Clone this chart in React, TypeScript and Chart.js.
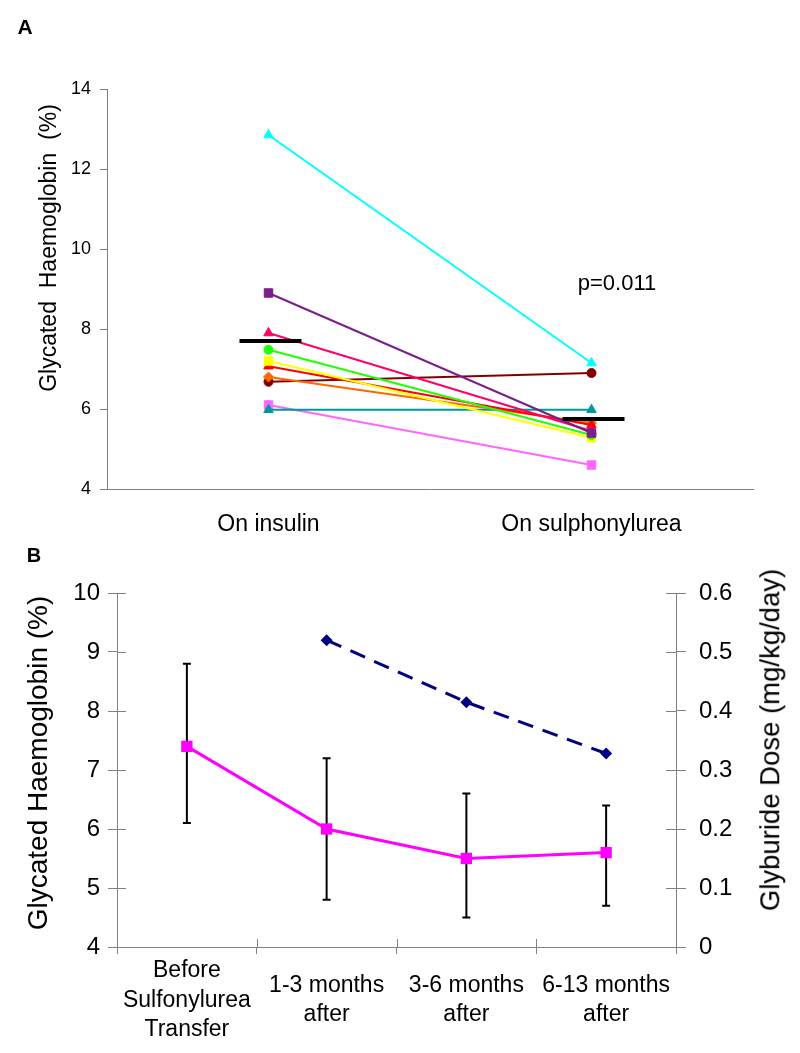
import React, { useEffect, useRef } from "react";
import { Chart, registerables } from "chart.js";

Chart.register(...registerables);

// ---------- Panel A data ----------
const groupsA = ["On insulin", "On sulphonylurea"];
const hbOnInsulin = [12.85, 8.9, 7.9, 7.48, 7.2, 7.07, 6.8, 6.68, 5.98, 6.1];
const hbOnSulphonylurea = [7.15, 5.4, 5.45, 5.35, 5.28, 5.6, 5.65, 6.9, 5.98, 4.6];
const patientColors = [
  "#00FFFF",
  "#7A1E8C",
  "#FF0066",
  "#22FF00",
  "#FFFF00",
  "#FF0000",
  "#FF6600",
  "#800000",
  "#009999",
  "#FF66FF",
];
const patientMarkers = [
  "triangle",
  "rect",
  "triangle",
  "circle",
  "rect",
  "triangle",
  "rectRot",
  "circle",
  "triangle",
  "rect",
];
const groupMeansA = [7.7, 5.75];
const yTicksA = [4, 6, 8, 10, 12, 14];

// ---------- Panel B data ----------
const periodsB = [
  ["Before", "Sulfonylurea", "Transfer"],
  ["1-3 months", "after"],
  ["3-6 months", "after"],
  ["6-13 months", "after"],
];
const hbMeanB = [7.4, 6.0, 5.5, 5.6];
const hbLowB = [6.1, 4.8, 4.5, 4.7];
const hbHighB = [8.8, 7.2, 6.6, 6.4];
const glyburideDose = [null, 0.52, 0.415, 0.328];
const yTicksB = [4, 5, 6, 7, 8, 9, 10];
const y1TicksB = [0, 0.1, 0.2, 0.3, 0.4, 0.5, 0.6];

const FONT = "'Liberation Sans', Arial, Helvetica, sans-serif";
const AXIS = "#808080";

const markerRadius: Record<string, number> = {
  rect: 6,
  circle: 4.5,
  triangle: 5.5,
  rectRot: 5,
};

function ChartA() {
  const ref = useRef<HTMLCanvasElement>(null);
  useEffect(() => {
    const meanBars = {
      id: "meanBars",
      afterDatasetsDraw(chart: any) {
        const { ctx, scales } = chart;
        ctx.save();
        ctx.strokeStyle = "#000";
        ctx.lineWidth = 4;
        groupMeansA.forEach((m, i) => {
          const x = scales.x.getPixelForValue(i) + 2;
          const y = scales.y.getPixelForValue(m);
          ctx.beginPath();
          ctx.moveTo(x - 31, y);
          ctx.lineTo(x + 31, y);
          ctx.stroke();
        });
        ctx.restore();
      },
    };
    const chart = new Chart(ref.current!, {
      type: "line",
      data: {
        labels: groupsA,
        datasets: hbOnInsulin.map((v, i) => ({
          data: [v, hbOnSulphonylurea[i]],
          borderColor: patientColors[i],
          backgroundColor: patientColors[i],
          pointStyle: patientMarkers[i] as any,
          pointRadius: markerRadius[patientMarkers[i]],
          pointBorderWidth: 1,
          borderWidth: 2,
        })),
      },
      options: {
        responsive: false,
        animation: false,
        plugins: { legend: { display: false }, tooltip: { enabled: false } },
        layout: { padding: { top: 89, right: 47, left: 0, bottom: 0 } },
        scales: {
          x: {
            type: "category",
            offset: true,
            grid: { drawOnChartArea: false, drawTicks: false, color: AXIS },
            border: { color: AXIS, width: 1 },
            ticks: { padding: 22, color: "#000", font: { family: FONT, size: 23 } },
            afterFit: (s: any) => {
              s.height = 56;
            },
          },
          y: {
            min: 4,
            max: 14,
            grid: { drawOnChartArea: false, tickLength: 7, color: AXIS },
            border: { color: AXIS, width: 1 },
            ticks: { padding: 9, color: "#000", font: { family: FONT, size: 18 } },
            afterBuildTicks: (s: any) => {
              s.ticks = yTicksA.map((v) => ({ value: v }));
            },
            afterFit: (s: any) => {
              s.width = 107;
            },
          },
        },
      },
      plugins: [meanBars],
    });
    return () => chart.destroy();
  }, []);
  return (
    <canvas
      ref={ref}
      width={800}
      height={545}
      style={{ position: "absolute", left: 0, top: 0, width: 800, height: 545 }}
    />
  );
}

function ChartB() {
  const ref = useRef<HTMLCanvasElement>(null);
  useEffect(() => {
    const errorBars = {
      id: "errorBars",
      beforeDatasetsDraw(chart: any) {
        const { ctx, scales } = chart;
        ctx.save();
        ctx.strokeStyle = "#000";
        ctx.lineWidth = 2;
        hbMeanB.forEach((_, i) => {
          const x = scales.x.getPixelForValue(i);
          const yl = scales.y.getPixelForValue(hbLowB[i]);
          const yh = scales.y.getPixelForValue(hbHighB[i]);
          ctx.beginPath();
          ctx.moveTo(x, yl);
          ctx.lineTo(x, yh);
          ctx.moveTo(x - 4, yl);
          ctx.lineTo(x + 4, yl);
          ctx.moveTo(x - 4, yh);
          ctx.lineTo(x + 4, yh);
          ctx.stroke();
        });
        ctx.restore();
      },
    };
    const innerTicks = {
      id: "innerTicks",
      afterDraw(chart: any) {
        const { ctx, scales, chartArea } = chart;
        ctx.save();
        ctx.strokeStyle = AXIS;
        ctx.lineWidth = 1;
        ctx.beginPath();
        scales.y.ticks.forEach((t: any) => {
          const y = Math.round(scales.y.getPixelForValue(t.value)) + 0.5;
          ctx.moveTo(chartArea.left, y);
          ctx.lineTo(chartArea.left + 9, y);
        });
        scales.y1.ticks.forEach((t: any) => {
          const y = Math.round(scales.y1.getPixelForValue(t.value)) + 0.5;
          ctx.moveTo(chartArea.right, y);
          ctx.lineTo(chartArea.right - 10, y);
        });
        for (let i = 1; i < periodsB.length; i++) {
          const x =
            Math.round((scales.x.getPixelForValue(i - 1) + scales.x.getPixelForValue(i)) / 2) + 0.5;
          ctx.moveTo(x, chartArea.bottom);
          ctx.lineTo(x, chartArea.bottom - 8);
        }
        ctx.stroke();
        ctx.restore();
      },
    };
    const chart = new Chart(ref.current!, {
      type: "line",
      data: {
        labels: periodsB as any,
        datasets: [
          {
            data: hbMeanB,
            yAxisID: "y",
            borderColor: "#FF00FF",
            backgroundColor: "#FF00FF",
            borderWidth: 3,
            pointStyle: "rect",
            pointRadius: 8,
            pointBorderWidth: 0,
          },
          {
            data: glyburideDose,
            yAxisID: "y1",
            borderColor: "#000080",
            backgroundColor: "#000080",
            borderWidth: 3,
            borderDash: [16, 10],
            pointStyle: "rectRot",
            pointRadius: 6,
            pointBorderWidth: 0,
            spanGaps: false,
          },
        ],
      },
      options: {
        responsive: false,
        animation: false,
        plugins: { legend: { display: false }, tooltip: { enabled: false } },
        layout: { padding: { top: 48, right: 0, left: 0, bottom: 0 } },
        scales: {
          x: {
            type: "category",
            offset: true,
            grid: { offset: true, drawOnChartArea: false, tickLength: 7, color: AXIS },
            border: { color: AXIS, width: 1 },
            ticks: {
              padding: 17,
              color: "#000",
              maxRotation: 0,
              autoSkip: false,
              crossAlign: "center",
              font: { family: FONT, size: 23, lineHeight: 1.27 },
            },
            afterFit: (s: any) => {
              s.height = 106;
            },
          },
          y: {
            position: "left",
            min: 4,
            max: 10,
            grid: { drawOnChartArea: false, tickLength: 9, color: AXIS },
            border: { color: AXIS, width: 1 },
            ticks: { padding: 8, color: "#000", font: { family: FONT, size: 24 } },
            afterBuildTicks: (s: any) => {
              s.ticks = yTicksB.map((v) => ({ value: v }));
            },
            afterFit: (s: any) => {
              s.width = 117;
            },
          },
          y1: {
            position: "right",
            min: 0,
            max: 0.6,
            grid: { drawOnChartArea: false, tickLength: 10, color: AXIS },
            border: { color: AXIS, width: 1 },
            ticks: {
              padding: 13,
              color: "#000",
              font: { family: FONT, size: 24 },
              callback: (v: any) => String(v),
            },
            afterBuildTicks: (s: any) => {
              s.ticks = y1TicksB.map((v) => ({ value: v }));
            },
            afterFit: (s: any) => {
              s.width = 124;
            },
          },
        },
      },
      plugins: [errorBars, innerTicks],
    });
    return () => chart.destroy();
  }, []);
  return (
    <canvas
      ref={ref}
      width={800}
      height={508}
      style={{ position: "absolute", left: 0, top: 545, width: 800, height: 508 }}
    />
  );
}

function Label(props: {
  text: string;
  x: number;
  y: number;
  size: number;
  bold?: boolean;
  rotate?: boolean;
}) {
  return (
    <div
      style={{
        position: "absolute",
        left: props.x,
        top: props.y,
        transform: `translate(-50%, -50%)${props.rotate ? " rotate(-90deg)" : ""}`,
        fontFamily: FONT,
        fontSize: props.size,
        fontWeight: props.bold ? "bold" : "normal",
        whiteSpace: "pre",
        lineHeight: 1,
        color: "#000",
      }}
    >
      {props.text}
    </div>
  );
}

export default function App() {
  return (
    <div
      style={{
        position: "absolute",
        left: 0,
        top: 0,
        width: 800,
        height: 1053,
        background: "#fff",
        overflow: "hidden",
      }}
    >
      <ChartA />
      <ChartB />
      <Label text="A" x={25} y={26} size={21} bold />
      <Label text="p=0.011" x={617} y={283} size={22} />
      <Label text="Glycated  Haemoglobin  (%)" x={48} y={248} size={23} rotate />
      <Label text="B" x={34} y={555} size={20} bold />
      <Label text="Glycated Haemoglobin (%)" x={38} y={763} size={28} rotate />
      <Label text="Glyburide Dose (mg/kg/day)" x={770} y={740} size={27.5} rotate />
    </div>
  );
}
